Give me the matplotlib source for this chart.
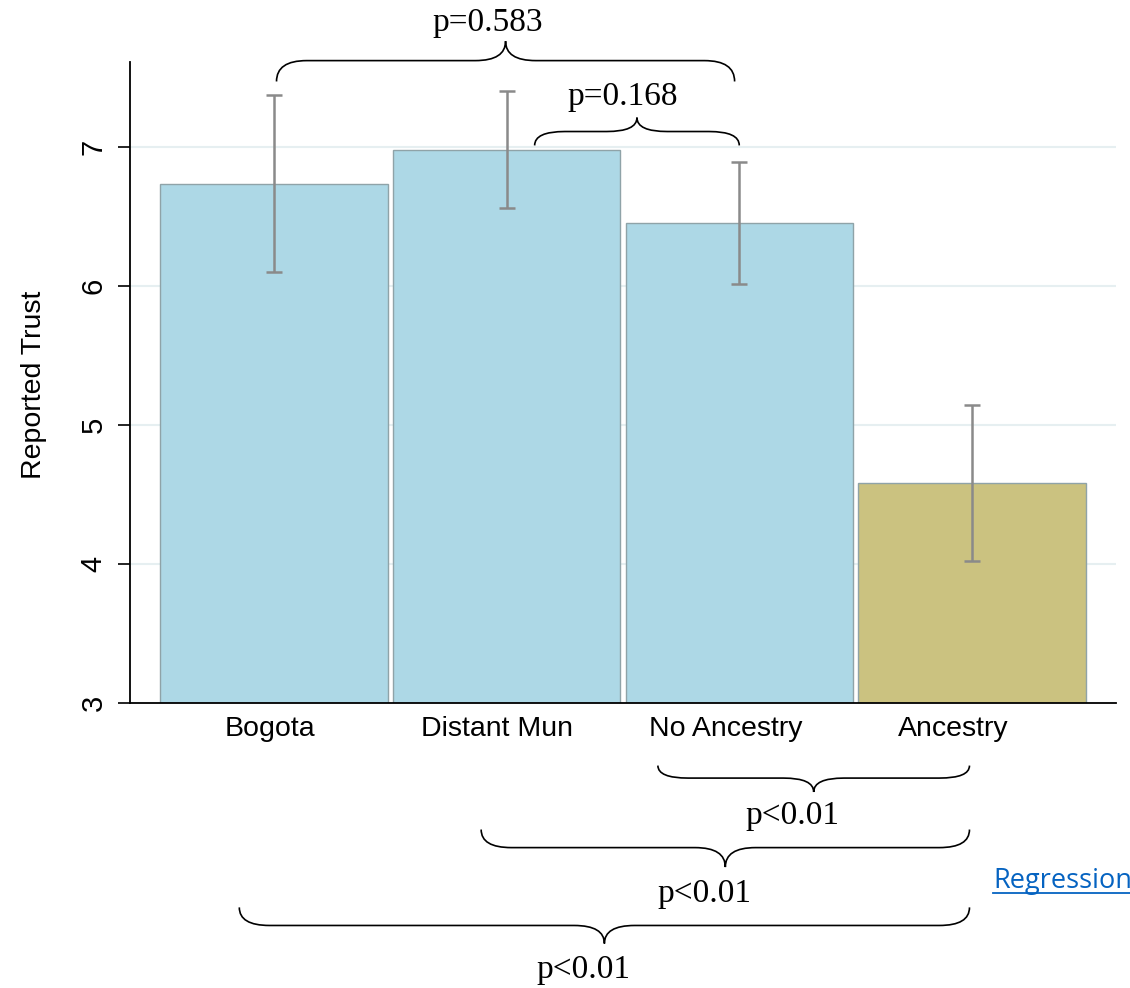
import matplotlib
matplotlib.use("Agg")
import matplotlib.pyplot as plt
from matplotlib.path import Path
from matplotlib.patches import PathPatch
from matplotlib.lines import Line2D

# datos
categorias = ['Bogota', 'Distant Mun', 'No Ancestry', 'Ancestry']
medias = [6.73, 6.98, 6.45, 4.58]
ic_bajo = [6.10, 6.56, 6.01, 4.02]
ic_alto = [7.37, 7.40, 6.89, 5.14]
colores = ['#add8e6', '#add8e6', '#add8e6', '#cbc280']

# llaves de comparacion: (x inicio, x fin, y extremos, y nivel, y punta)
llaves = [
    (0.01, 1.98, 7.47, 7.62, 7.76),
    (1.12, 2.00, 7.01, 7.11, 7.21),
    (1.65, 2.99, 2.55, 2.46, 2.36),
    (0.89, 2.99, 2.09, 1.96, 1.82),
    (-0.15, 2.99, 1.53, 1.40, 1.27),
]
etiquetas_p = ['p=0.583', 'p=0.168', 'p<0.01', 'p<0.01', 'p<0.01']
pos_p = [(0.92, 7.89), (1.50, 7.36), (2.23, 2.19), (1.85, 1.63), (1.33, 1.08)]

# posicion de las etiquetas del eje x (algo corridas a la izquierda en el original)
pos_etiquetas = [-0.02, 0.96, 1.94, 2.92]


def llave(ax, x0, x1, y_ext, y_niv, y_punta, r=0.13):
    xm = (x0 + x1) / 2
    verts = [(x0, y_ext), (x0, y_niv), (x0 + r, y_niv),
             (xm - r, y_niv),
             (xm, y_niv), (xm, y_punta),
             (xm, y_niv), (xm + r, y_niv),
             (x1 - r, y_niv),
             (x1, y_niv), (x1, y_ext)]
    codes = [Path.MOVETO, Path.CURVE3, Path.CURVE3,
             Path.LINETO,
             Path.CURVE3, Path.CURVE3,
             Path.CURVE3, Path.CURVE3,
             Path.LINETO,
             Path.CURVE3, Path.CURVE3]
    ax.add_patch(PathPatch(Path(verts, codes), fill=False, lw=1.2,
                           edgecolor='black', clip_on=False))


fig = plt.figure(figsize=(11.3, 9.88), dpi=100)
ax = fig.add_axes([130/1130, 1 - 703/988, 986/1130, 641/988])

x = range(len(categorias))
base = 3
ax.bar(x, [m - base for m in medias], bottom=base, width=0.978,
       color=colores, edgecolor='#8fa3a8', linewidth=1, zorder=2)
yerr = [[m - lo for m, lo in zip(medias, ic_bajo)],
        [hi - m for m, hi in zip(medias, ic_alto)]]
ax.errorbar(x, medias, yerr=yerr, fmt='none', ecolor='#8a8a8a',
            elinewidth=1.8, capsize=5.5, capthick=1.8, zorder=3)

ax.set_xlim(-0.62, 3.62)
ax.set_ylim(3, 7.61)
ax.set_yticks([3, 4, 5, 6, 7])
ax.set_xticks(pos_etiquetas)
ax.set_xticklabels(categorias, fontsize=20.5, family='Liberation Sans')
for t in ax.get_yticklabels():
    t.set_family('Liberation Sans')
ax.tick_params(axis='y', labelsize=21, labelrotation=90, length=9,
               width=1.2, pad=7)
ax.tick_params(axis='x', length=0, pad=9)
for t in ax.get_yticklabels():
    t.set_va('center')

ax.grid(axis='y', color='#e6eff1', lw=1.5)
ax.set_axisbelow(True)
ax.spines['top'].set_visible(False)
ax.spines['right'].set_visible(False)
ax.spines['left'].set_linewidth(1.3)
ax.spines['bottom'].set_linewidth(1.3)

ax.set_ylabel('Reported Trust', fontsize=20.5, family='Liberation Sans')
ax.yaxis.set_label_coords(-0.084, 0.496)

for (x0, x1, ye, yn, yp) in llaves:
    llave(ax, x0, x1, ye, yn, yp)
for txt, (px, py) in zip(etiquetas_p, pos_p):
    ax.text(px, py, txt, fontsize=24, family='Liberation Serif',
            ha='center', va='center', clip_on=False)

# enlace "Regression" subrayado
reg = fig.text(993/1130, 1 - 888/988, 'Regression', fontsize=19.5,
               family='Open Sans', color='#0563c1', ha='left', va='baseline')
fig.canvas.draw()
bb = reg.get_window_extent()
w = fig.bbox.width
y_sub = 1 - 893/988
fig.add_artist(Line2D([bb.x0 / w, bb.x1 / w], [y_sub, y_sub],
                      transform=fig.transFigure, color='#0563c1', lw=1.3))

fig.savefig('out.png', dpi=100)
